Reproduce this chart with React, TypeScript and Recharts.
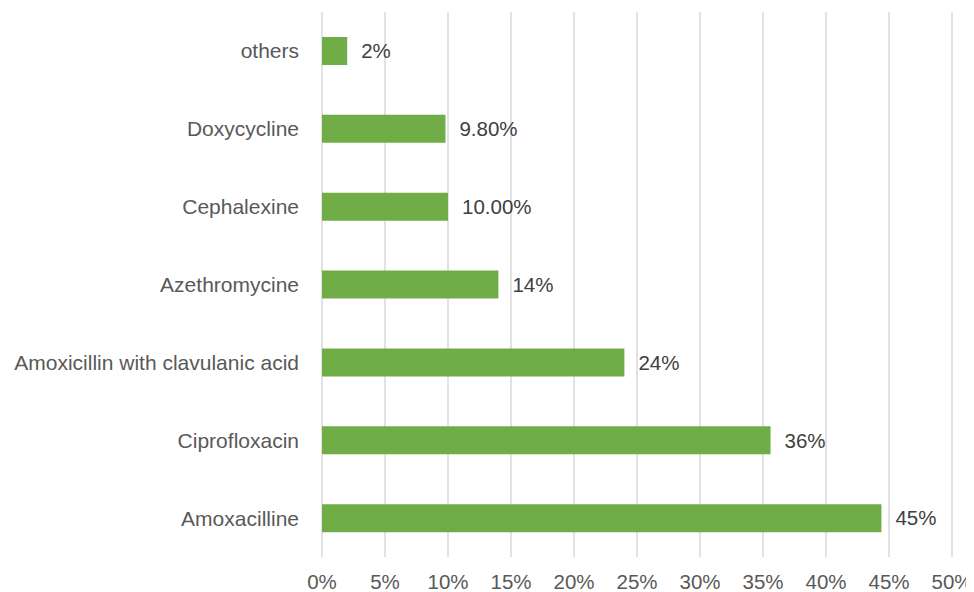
import React from 'react';
import { BarChart, Bar, XAxis, YAxis, CartesianGrid, LabelList } from 'recharts';

const drugs = [
  'others',
  'Doxycycline',
  'Cephalexine',
  'Azethromycine',
  'Amoxicillin with clavulanic acid',
  'Ciprofloxacin',
  'Amoxacilline',
];
const shares = [2, 9.8, 10, 14, 24, 35.6, 44.4];
const shareLabels = ['2%', '9.80%', '10.00%', '14%', '24%', '36%', '45%'];
const xTicks = [0, 5, 10, 15, 20, 25, 30, 35, 40, 45, 50];

const data = drugs.map((name, i) => ({ name, value: shares[i], label: shareLabels[i] }));

const font = '"Liberation Sans", Arial, sans-serif';

export default function App() {
  return (
    <div style={{ width: 966, height: 584, fontFamily: font }}>
      <BarChart
        width={966}
        height={584}
        data={data}
        layout="vertical"
        margin={{ top: 4, right: 22, left: 0, bottom: 5 }}
        barSize={28}
      >
        <CartesianGrid horizontal={false} stroke="#d9d9d9" strokeWidth={1.5} />
        <XAxis
          type="number"
          domain={[0, 50]}
          ticks={xTicks}
          tickFormatter={(v) => `${v}%`}
          axisLine={false}
          tickLine={false}
          tickMargin={11}
          height={30}
          interval={0}
          tick={{ fontSize: 20.5, fill: '#595959', fontFamily: font }}
        />
        <YAxis
          type="category"
          dataKey="name"
          width={314}
          axisLine={false}
          tickLine={false}
          tickMargin={17}
          interval={0}
          tick={{ fontSize: 21, fill: '#595959', fontFamily: font }}
        />
        <Bar dataKey="value" fill="#70ad47" isAnimationActive={false}>
          <LabelList
            dataKey="label"
            position="right"
            offset={14}
            style={{ fontSize: 20.5, fill: '#404040', fontFamily: font }}
          />
        </Bar>
      </BarChart>
    </div>
  );
}
